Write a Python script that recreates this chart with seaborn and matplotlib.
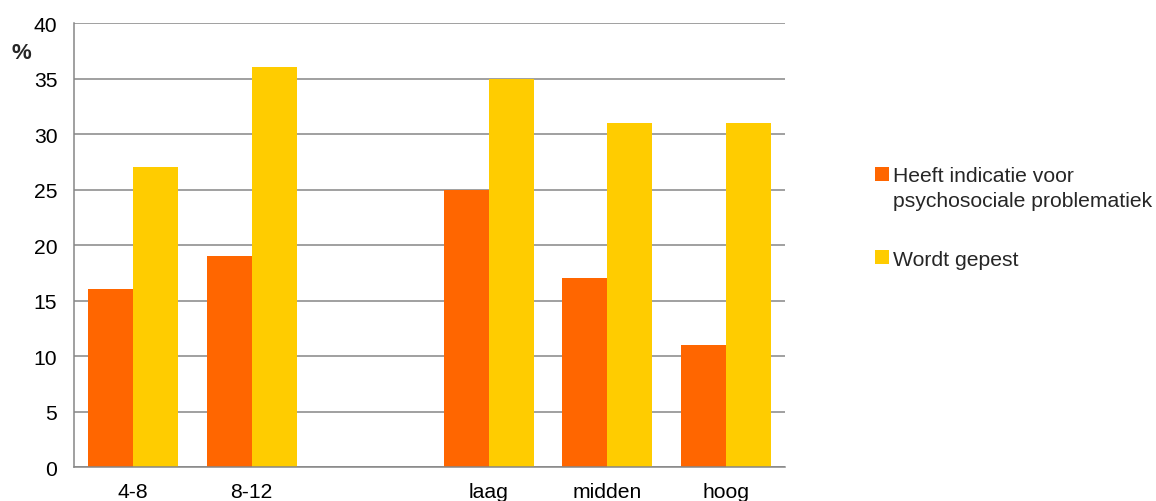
import matplotlib
matplotlib.use('Agg')
import matplotlib.pyplot as plt
from matplotlib.patches import Patch
from matplotlib.legend_handler import HandlerPatch
import pandas as pd
import seaborn as sns

categories = ['4-8', '8-12', ' ', 'laag', 'midden', 'hoog']
data_categories = ['4-8', '8-12', 'laag', 'midden', 'hoog']
psychosociaal = [16, 19, 25, 17, 11]
gepest = [27, 36, 35, 31, 31]
series = ['Heeft indicatie voor\npsychosociale problematiek', 'Wordt gepest']
colors = ['#FF6600', '#FFCC00']

df = pd.DataFrame({
    'categorie': data_categories * 2,
    'waarde': psychosociaal + gepest,
    'reeks': [series[0]] * len(data_categories) + [series[1]] * len(data_categories),
})


class RaisedPatch(HandlerPatch):
    # put the legend square next to the first line of a two-line label
    def __init__(self, shift=0, **kw):
        super().__init__(**kw)
        self.shift = shift

    def create_artists(self, legend, orig_handle, xdescent, ydescent,
                       width, height, fontsize, trans):
        arts = super().create_artists(legend, orig_handle, xdescent, ydescent,
                                      width, height, fontsize, trans)
        arts[0].set_y(arts[0].get_y() + self.shift)
        return arts


sns.set_theme(style='white')
plt.rcParams['font.family'] = ['Liberation Sans', 'DejaVu Sans']
fs = 15.2

fig = plt.figure(figsize=(11.56, 5.02), dpi=100)
ax = fig.add_axes([0.064, 0.0677, 0.615, 0.8843])

sns.barplot(
    data=df,
    x='categorie',
    y='waarde',
    hue='reeks',
    order=categories,
    hue_order=series,
    palette=colors,
    width=0.76,
    gap=0,
    saturation=1,
    linewidth=0,
    ax=ax,
    legend=False
)

ax.set_ylim(0, 40)
ax.set_yticks(range(0, 41, 5))
ax.set_xlim(-0.5, len(categories) - 0.5)
ax.grid(axis='y', color='#868686', linewidth=1.1)
ax.set_axisbelow(True)
for side in ['top', 'right']:
    ax.spines[side].set_visible(False)
for side in ['left', 'bottom']:
    ax.spines[side].set_color('#868686')
    ax.spines[side].set_linewidth(1.1)
ax.tick_params(axis='both', length=0, labelsize=fs, colors='black')
ax.tick_params(axis='x', pad=11)
ax.tick_params(axis='y', pad=12)
ax.set_xlabel('')
ax.set_ylabel('')

fig.text(0.01, 0.893, '%', fontsize=16, fontweight='bold', va='center')

handles = [Patch(facecolor=c, edgecolor='none') for c in colors]
leg = fig.legend(
    handles, series,
    loc='upper left',
    bbox_to_anchor=(0.757, 0.668),
    borderpad=0,
    borderaxespad=0,
    frameon=False,
    fontsize=fs,
    handlelength=0.65,
    handleheight=0.65,
    handletextpad=0.2,
    labelspacing=1.9,
    handler_map={handles[0]: RaisedPatch(shift=9.8), handles[1]: RaisedPatch(shift=0)}
)
leg.get_texts()[0].set_linespacing(1.4)

plt.savefig('out.png', dpi=100)
plt.close()
